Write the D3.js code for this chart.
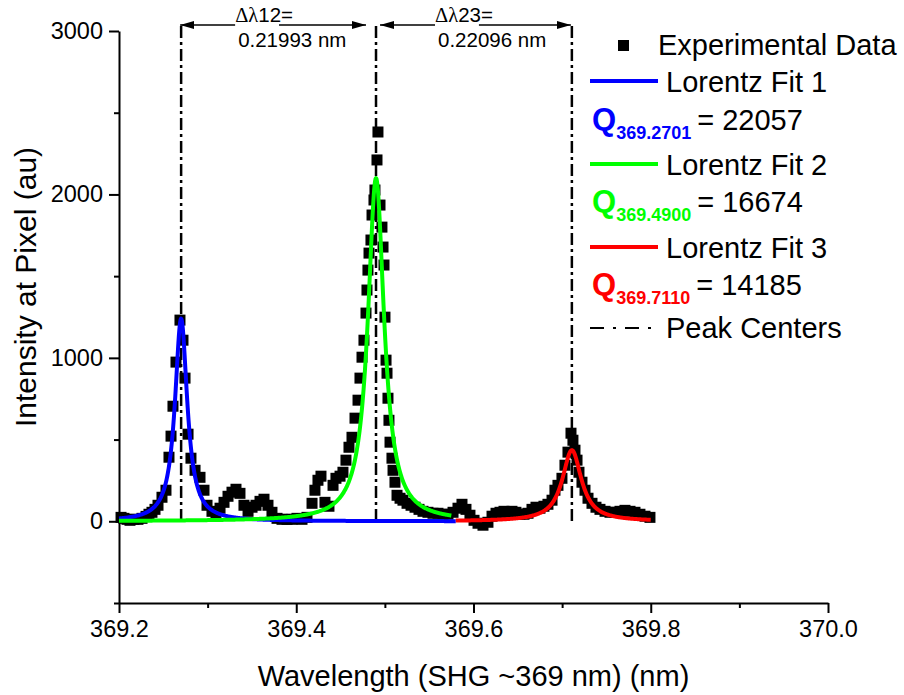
<!DOCTYPE html>
<html>
<head>
<meta charset="utf-8">
<script src="https://cdn.jsdelivr.net/npm/d3@7"></script>
<style>
  body { margin: 0; background: #fff; }
  svg { font-family: "Liberation Sans", Arial, sans-serif; }
</style>
</head>
<body>
<script>
var wavelength = [
  369.2023, 369.2056, 369.2090, 369.2124, 369.2169, 369.2214, 369.2260, 369.2305, 369.2338, 369.2372,
  369.2406, 369.2440, 369.2485, 369.2530, 369.2564, 369.2587, 369.2609, 369.2643, 369.2688, 369.2722,
  369.2745, 369.2779, 369.2812, 369.2858, 369.2914, 369.2959, 369.2993, 369.3049, 369.3094, 369.3140,
  369.3185, 369.3230, 369.3275, 369.3320, 369.3365, 369.3410, 369.3456, 369.3501, 369.3546, 369.3591,
  369.3636, 369.3681, 369.3726, 369.3783, 369.3839, 369.3896, 369.3952, 369.4008, 369.4065, 369.4121,
  369.4178, 369.4211, 369.4245, 369.4279, 369.4324, 369.4369, 369.4415, 369.4448, 369.4494, 369.4527,
  369.4561, 369.4595, 369.4629, 369.4663, 369.4697, 369.4719, 369.4742, 369.4764, 369.4787, 369.4798,
  369.4809, 369.4821, 369.4843, 369.4855, 369.4877, 369.4888, 369.4911, 369.4922, 369.4945, 369.4967,
  369.4979, 369.4990, 369.5001, 369.5013, 369.5024, 369.5035, 369.5046, 369.5058, 369.5080, 369.5092,
  369.5114, 369.5137, 369.5171, 369.5204, 369.5250, 369.5295, 369.5340, 369.5385, 369.5430, 369.5486,
  369.5543, 369.5599, 369.5656, 369.5712, 369.5769, 369.5825, 369.5870, 369.5915, 369.5960, 369.6006,
  369.6051, 369.6107, 369.6163, 369.6209, 369.6254, 369.6299, 369.6344, 369.6389, 369.6434, 369.6479,
  369.6525, 369.6570, 369.6615, 369.6660, 369.6705, 369.6750, 369.6795, 369.6840, 369.6886, 369.6919,
  369.6953, 369.6998, 369.7032, 369.7066, 369.7100, 369.7122, 369.7145, 369.7168, 369.7190, 369.7224,
  369.7258, 369.7292, 369.7337, 369.7382, 369.7427, 369.7484, 369.7540, 369.7596, 369.7653, 369.7709,
  369.7766, 369.7822, 369.7878, 369.7935, 369.7991
];
var intensity = [
  24, 18, 12, 6, 12, 12, 18, 30, 43, 55,
  73, 98, 147, 190, 392, 521, 704, 974, 1231, 1108,
  876, 533, 386, 312, 269, 190, 98, 61, 43, 80,
  116, 153, 178, 196, 171, 98, 61, 86, 98, 122,
  135, 98, 55, 18, 12, 12, 12, 18, 12, 24,
  110, 190, 251, 276, 116, 92, 220, 263, 276, 300,
  374, 453, 514, 631, 741, 876, 1004, 1108, 1274, 1415,
  1537, 1641, 1721, 1874, 1966, 2027, 2211, 2382, 1935, 1800,
  1678, 1568, 1249, 986, 906, 753, 618, 484, 386, 312,
  239, 159, 141, 129, 110, 98, 86, 73, 61, 55,
  49, 49, 43, 43, 55, 80, 104, 73, 37, 6,
  -12, -24, -6, 31, 49, 55, 61, 55, 61, 55,
  43, 43, 49, 73, 86, 80, 92, 104, 129, 190,
  220, 263, 343, 423, 539, 496, 435, 374, 300, 239,
  190, 141, 110, 86, 73, 61, 55, 55, 61, 67,
  61, 55, 43, 31, 24
];

// Lorentz fits (centres and Q from the labels, heights)
var fitNames = ["Lorentz Fit 1", "Lorentz Fit 2", "Lorentz Fit 3"];
var fitCenters = [369.2701, 369.4900, 369.7110];
var fitQ = [22057, 16674, 14185];
var fitHeights = [1240, 2100, 435];
var fitFrom = [369.2, 369.2, 369.58];
var fitTo = [369.58, 369.575, 369.80];
var fitColors = ["#0000ff", "#00ff00", "#ff0000"];

var spacingLabels = ["\u0394\u03bb12=", "\u0394\u03bb23="];
var spacingValues = ["0.21993 nm", "0.22096 nm"];

var xMajor = [369.2, 369.4, 369.6, 369.8, 370.0];
var xMinor = [369.3, 369.5, 369.7, 369.9];
var yMajor = [0, 1000, 2000, 3000];
var yMinor = [-500, 500, 1500, 2500];

var width = 904, height = 695;

var svg = d3.select("body").append("svg")
    .attr("width", width)
    .attr("height", height);

var x = d3.scaleLinear().domain([369.2, 370.0]).range([119, 828]);
var y = d3.scaleLinear().domain([-500, 3000]).range([603, 31]);

// axes
var gx = svg.append("g").attr("transform", "translate(0," + y(-500) + ")");
gx.call(d3.axisBottom(x).tickValues(xMajor).tickSize(10).tickSizeOuter(0).tickPadding(7)
    .tickFormat(d3.format(".1f")));
gx.append("g").call(d3.axisBottom(x).tickValues(xMinor).tickSize(5).tickFormat(""))
    .select(".domain").remove();

var gy = svg.append("g").attr("transform", "translate(" + x(369.2) + ",0)");
gy.call(d3.axisLeft(y).tickValues(yMajor).tickSize(10).tickSizeOuter(0).tickPadding(6)
    .tickFormat(d3.format("d")));
gy.append("g").call(d3.axisLeft(y).tickValues(yMinor).tickSize(5).tickFormat(""))
    .select(".domain").remove();

svg.selectAll(".domain").attr("stroke-width", 2).attr("stroke", "#000");
svg.selectAll(".tick line").attr("stroke-width", 2).attr("stroke", "#000");
svg.selectAll(".tick text").attr("font-size", 23.5).attr("fill", "#000")
    .attr("font-family", "'Liberation Sans', Arial, sans-serif");

svg.append("text")
    .attr("x", (x(369.2) + x(370.0)) / 2)
    .attr("y", 686)
    .attr("text-anchor", "middle")
    .attr("font-size", 29)
    .text("Wavelength (SHG ~369 nm) (nm)");

svg.append("text")
    .attr("transform", "translate(36," + 287 + ") rotate(-90)")
    .attr("text-anchor", "middle")
    .attr("font-size", 30)
    .text("Intensity at Pixel (au)");

// data points
svg.append("g").selectAll("rect")
    .data(d3.zip(wavelength, intensity))
    .enter().append("rect")
    .attr("x", function (d) { return x(d[0]) - 5.5; })
    .attr("y", function (d) { return y(d[1]) - 5.5; })
    .attr("width", 11)
    .attr("height", 11)
    .attr("fill", "#000");

// peak centre lines
var dashPattern = "12,4,3,4";
svg.append("g").selectAll("line")
    .data(fitCenters)
    .enter().append("line")
    .attr("x1", function (d) { return x(d); })
    .attr("x2", function (d) { return x(d); })
    .attr("y1", y(3030))
    .attr("y2", y(0))
    .attr("stroke", "#000")
    .attr("stroke-width", 2.5)
    .attr("stroke-dasharray", dashPattern);

// fits
var line = d3.line()
    .x(function (d) { return x(d[0]); })
    .y(function (d) { return y(d[1]); });

fitCenters.forEach(function (c, i) {
    var half = c / fitQ[i] / 2;
    var pts = d3.range(fitFrom[i], fitTo[i] + 1e-9, 0.0005).map(function (l) {
        return [l, fitHeights[i] * half * half / ((l - c) * (l - c) + half * half)];
    });
    svg.append("path")
        .attr("d", line(pts))
        .attr("fill", "none")
        .attr("stroke", fitColors[i])
        .attr("stroke-width", 4)
        .attr("stroke-linejoin", "round");
});

// spacing arrows
var defs = svg.append("defs");
defs.append("marker")
    .attr("id", "ah")
    .attr("viewBox", "0 0 14 8")
    .attr("refX", 14).attr("refY", 4)
    .attr("markerWidth", 14).attr("markerHeight", 8)
    .attr("markerUnits", "userSpaceOnUse")
    .attr("orient", "auto-start-reverse")
    .append("path").attr("d", "M0,0L14,4L0,8Z").attr("fill", "#000");

var arrowY = 25;
[[x(fitCenters[0]) - 1, x(fitCenters[1]) - 10], [x(fitCenters[1]) + 4, x(fitCenters[2]) - 1]]
  .forEach(function (a, i) {
    svg.append("line")
        .attr("x1", a[0]).attr("x2", a[1])
        .attr("y1", arrowY).attr("y2", arrowY)
        .attr("stroke", "#000").attr("stroke-width", 1.5)
        .attr("marker-start", "url(#ah)")
        .attr("marker-end", "url(#ah)");
    var lx = a[0] + 55;
    var g = svg.append("g");
    var bg = g.append("rect").attr("fill", "#fff");
    var t = g.append("text")
        .attr("x", lx).attr("y", 22)
        .attr("font-size", 20.5);
    t.append("tspan").attr("font-family", "'Liberation Serif', serif").text(spacingLabels[i].slice(0, 2));
    t.append("tspan").text(spacingLabels[i].slice(2));
    var bb = t.node().getBBox();
    bg.attr("x", bb.x).attr("y", bb.y)
        .attr("width", bb.width - 14).attr("height", bb.height);
    svg.append("text")
        .attr("x", lx + 3).attr("y", 47)
        .attr("font-size", 20.5)
        .text(spacingValues[i]);
  });

// legend
var lg = svg.append("g");
lg.append("rect").attr("x", 618).attr("y", 40).attr("width", 11).attr("height", 11).attr("fill", "#000");
lg.append("text").attr("x", 658).attr("y", 55).attr("font-size", 29).text("Experimental Data");

var lineRows = [81, 164, 247];
var qRows = [130, 212, 295];
fitNames.forEach(function (n, i) {
    lg.append("line")
        .attr("x1", 590).attr("x2", 658)
        .attr("y1", lineRows[i]).attr("y2", lineRows[i])
        .attr("stroke", fitColors[i]).attr("stroke-width", 4);
    lg.append("text").attr("x", 666).attr("y", lineRows[i] + 11).attr("font-size", 29).text(n);
    var q = lg.append("text").attr("x", 592).attr("y", qRows[i]).attr("font-size", 29);
    q.append("tspan").attr("fill", fitColors[i]).attr("font-weight", "bold").attr("font-size", 31).text("Q");
    q.append("tspan").attr("fill", fitColors[i]).attr("font-weight", "bold").attr("font-size", 18)
        .attr("dy", 9).text(d3.format(".4f")(fitCenters[i]));
    q.append("tspan").attr("dy", -9).attr("dx", 6).text("= " + fitQ[i]);
});

lg.append("line")
    .attr("x1", 590).attr("x2", 652)
    .attr("y1", 328).attr("y2", 328)
    .attr("stroke", "#000").attr("stroke-width", 2)
    .attr("stroke-dasharray", "14,9,3,9");
lg.append("text").attr("x", 666).attr("y", 338).attr("font-size", 29).text("Peak Centers");
</script>
</body>
</html>
